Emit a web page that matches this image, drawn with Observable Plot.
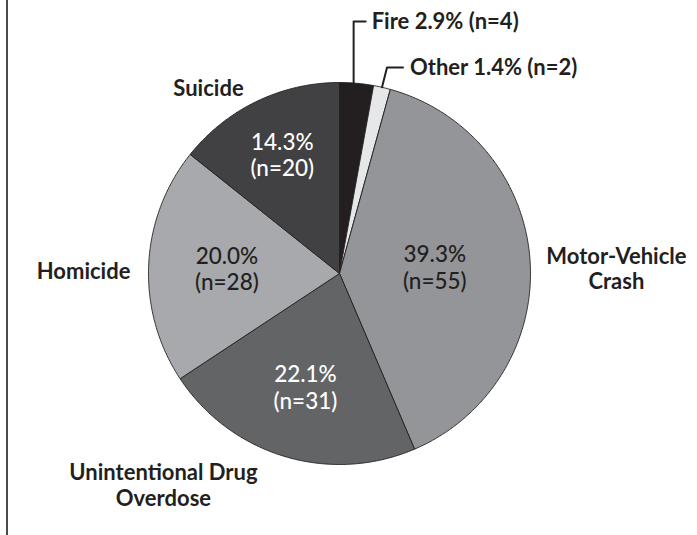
<!DOCTYPE html>
<html>
<head>
<meta charset="utf-8">
<script src="https://cdn.jsdelivr.net/npm/d3@7"></script>
<script src="https://cdn.jsdelivr.net/npm/@observablehq/plot@0.6"></script>
<style>
  html, body { margin: 0; padding: 0; background: #fff; }
  #chart svg { display: block; }
</style>
</head>
<body>
<div id="chart"></div>
<script>
// Causes of death, clockwise from 12 o'clock
const categories = ["Fire", "Other", "Motor-Vehicle Crash", "Unintentional Drug Overdose", "Homicide", "Suicide"];
const counts = [4, 2, 55, 31, 28, 20];
const percents = ["2.9%", "1.4%", "39.3%", "22.1%", "20.0%", "14.3%"];
const sliceColors = ["#231f20", "#e6e7e8", "#939598", "#636466", "#a7a9ac", "#414042"];
const insideTextColors = [null, null, "#231f20", "#ffffff", "#231f20", "#ffffff"];
const outerLabels = ["Fire", "Other", "Motor-Vehicle\nCrash", "Unintentional Drug\nOverdose", "Homicide", "Suicide"];

// Label placement: radius (in pie radii) for the inside label, and polar spot for the outside label
const insideRadius = [null, null, 0.50, 0.62, 0.59, 0.69];
const outsidePolar = [null, null, [88.9, 1.45], [219.8, 1.44], [270.7, 1.34], [324.8, 1.19]];

// Pie geometry (pixels)
const W = 697, H = 535, cx = 339, cy = 273, R = 191;

const pie = d3.pie().sort(null).value(d => d)(counts);
const rad = deg => deg * Math.PI / 180;
// unit-circle point, angle in radians clockwise from 12 o'clock
const pt = (a, r) => [r * Math.sin(a), r * Math.cos(a)];

const marks = [Plot.frame({anchor: "left", stroke: "#4a4a4a", strokeWidth: 2})];

// Slices as closed polygons: centre -> arc -> centre
pie.forEach((p, i) => {
  const steps = Math.max(2, Math.ceil((p.endAngle - p.startAngle) / rad(0.5)));
  const poly = [[0, 0]];
  for (let k = 0; k <= steps; k++) {
    poly.push(pt(p.startAngle + (p.endAngle - p.startAngle) * k / steps, 1));
  }
  poly.push([0, 0]);
  marks.push(Plot.line(poly, {
    x: d => d[0], y: d => d[1],
    fill: sliceColors[i], stroke: "#231f20", strokeWidth: 0.9, strokeLinejoin: "miter"
  }));
});

// Labels inside the large slices
const inside = pie.map((p, i) => {
  if (insideRadius[i] == null) return null;
  const mid = (p.startAngle + p.endAngle) / 2;
  const [x, y] = pt(mid, insideRadius[i]);
  return {x, y, text: `${percents[i]}\n(n=${counts[i]})`, color: insideTextColors[i]};
}).filter(Boolean);
marks.push(Plot.text(inside, {
  x: "x", y: "y", text: "text", fill: "color",
  fontSize: 22.5, fontWeight: 500, lineHeight: 1.17, textAnchor: "middle", lineAnchor: "middle"
}));

// Category names outside the pie
const outside = outsidePolar.map((o, i) => {
  if (!o) return null;
  const [x, y] = pt(rad(o[0]), o[1]);
  return {x, y, text: outerLabels[i]};
}).filter(Boolean);
marks.push(Plot.text(outside, {
  x: "x", y: "y", text: "text", fill: "#231f20",
  fontSize: 22, fontWeight: 700, lineHeight: 1.17, textAnchor: "middle", lineAnchor: "middle"
}));

// Small slices: leader lines with elbow callouts
const px = v => v / R; // pixel length to pie units
const fireMid = (pie[0].startAngle + pie[0].endAngle) / 2;
const otherMid = (pie[1].startAngle + pie[1].endAngle) / 2;
const fireRim = pt(fireMid - rad(0.9), 1);
const otherRim = pt(otherMid, 1);
const fireLeader = [fireRim, [fireRim[0], px(cy - 21)], [fireRim[0] + px(12), px(cy - 21)]];
const otherLeader = [otherRim, [otherRim[0] + px(5), px(cy - 67)], [otherRim[0] + px(21), px(cy - 67)]];
for (const leader of [fireLeader, otherLeader]) {
  marks.push(Plot.line(leader, {x: d => d[0], y: d => d[1], stroke: "#231f20", strokeWidth: 2}));
}
marks.push(Plot.text([
  {x: fireLeader[2][0] + px(6), y: fireLeader[2][1], text: `${categories[0]} ${percents[0]} (n=${counts[0]})`},
  {x: otherLeader[2][0] + px(7), y: otherLeader[2][1], text: `${categories[1]} ${percents[1]} (n=${counts[1]})`}
], {
  x: "x", y: "y", text: "text", fill: "#231f20",
  fontSize: 22, fontWeight: 700, textAnchor: "start", lineAnchor: "middle"
}));

const chart = Plot.plot({
  width: W,
  height: H,
  marginLeft: 6.5, marginRight: 0, marginTop: 0, marginBottom: 0,
  style: {fontFamily: "Lato, 'Open Sans', sans-serif", background: "#fff"},
  x: {domain: [-1, 1], range: [cx - R, cx + R], axis: null},
  y: {domain: [-1, 1], range: [cy + R, cy - R], axis: null},
  marks
});
document.getElementById("chart").appendChild(chart);
</script>
</body>
</html>
